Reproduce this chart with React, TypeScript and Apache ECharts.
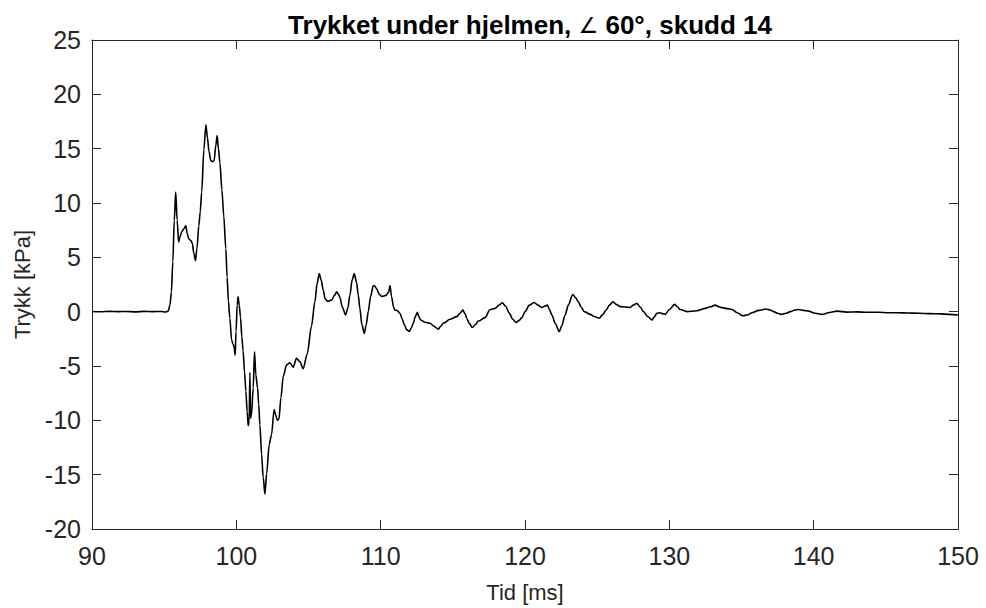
import React, { useEffect, useRef } from "react";
import * as echarts from "echarts";

// Time axis (ms) and the pressure under the helmet (kPa)
const times: number[] = [
  90.0, 90.6, 91.2, 91.8, 92.4, 93.0, 93.6, 94.2, 94.8, 95.1, 95.28, 95.4, 95.5, 95.6, 95.7, 95.8, 95.9,
  96.0, 96.1, 96.2, 96.35, 96.5, 96.6, 96.7, 96.85, 96.95, 97.05, 97.17, 97.27, 97.4, 97.5, 97.6, 97.75,
  97.89, 98.0, 98.1, 98.23, 98.35, 98.46, 98.58, 98.67, 98.76, 98.86, 99.0, 99.13, 99.27, 99.36, 99.45,
  99.55, 99.67, 99.77, 99.84, 99.92, 99.98, 100.06, 100.12, 100.2, 100.29, 100.38, 100.47, 100.57, 100.66,
  100.75, 100.82, 100.89, 100.94, 100.98, 101.05, 101.17, 101.26, 101.35, 101.47, 101.55, 101.63, 101.75,
  101.86, 101.98, 102.1, 102.28, 102.44, 102.62, 102.72, 102.85, 102.95, 103.09, 103.25, 103.48, 103.71,
  103.94, 104.17, 104.4, 104.63, 104.91, 105.21, 105.44, 105.6, 105.74, 105.88, 106.02, 106.15, 106.3,
  106.6, 106.8, 106.95, 107.08, 107.18, 107.35, 107.57, 107.72, 107.87, 108.02, 108.17, 108.33, 108.45,
  108.56, 108.7, 108.86, 109.0, 109.14, 109.3, 109.49, 109.6, 109.72, 109.9, 110.07, 110.37, 110.55,
  110.65, 110.75, 110.9, 110.99, 111.15, 111.34, 111.5, 111.64, 111.8, 111.98, 112.12, 112.26, 112.4,
  112.54, 112.66, 112.77, 113.07, 113.42, 113.7, 113.99, 114.15, 114.34, 114.8, 115.27, 115.5, 115.69,
  115.85, 115.96, 116.15, 116.35, 116.55, 116.77, 117.23, 117.58, 117.93, 118.2, 118.43, 118.65, 118.92,
  119.15, 119.38, 119.6, 119.78, 120.0, 120.3, 120.63, 120.9, 121.16, 121.35, 121.55, 121.7, 121.86,
  122.1, 122.37, 122.55, 122.78, 123.0, 123.31, 123.5, 123.7, 123.9, 124.1, 124.51, 124.8, 125.14, 125.4,
  125.62, 125.85, 126.09, 126.35, 126.6, 127.29, 127.5, 127.75, 128.0, 128.21, 128.5, 128.79, 128.95,
  129.14, 129.35, 129.55, 129.72, 130.0, 130.36, 130.55, 130.76, 131.22, 131.91, 132.49, 132.85, 133.18,
  133.45, 133.65, 134.0, 134.34, 134.7, 135.1, 135.4, 135.73, 136.2, 136.7, 137.0, 137.23, 137.5, 137.75,
  138.1, 138.38, 138.7, 138.96, 139.3, 139.65, 140.1, 140.58, 141.1, 141.62, 142.3, 143.0, 143.7, 144.5,
  145.2, 145.8, 146.5, 147.3, 148.0, 148.8, 149.4, 150.0,
];

const pressures: number[] = [
  0.02, -0.01, 0.03, 0.0, 0.02, -0.02, 0.03, 0.0, 0.02, -0.03, 0.05, 0.6, 1.8, 4.6, 8.4, 11.0, 8.4,
  6.4, 6.9, 7.3, 7.6, 7.9, 7.2, 6.7, 6.55, 6.3, 5.4, 4.7, 5.8, 7.9, 9.2, 11.0, 14.9,
  17.2, 16.0, 14.8, 13.9, 13.8, 13.9, 15.3, 16.2, 15.0, 13.7, 11.2, 8.8, 5.8, 3.2, 1.0,
  -0.6, -2.6, -3.0, -3.2, -4.0, -1.8, 0.6, 1.37, 0.6, -0.5, -2.3, -3.6, -5.6, -7.3,
  -9.2, -10.5, -10.1, -5.6, -9.8, -9.5, -7.0, -3.7, -5.8, -7.0, -8.5, -10.4, -13.1,
  -15.25, -16.8, -14.9, -12.2, -11.3, -9.0, -9.5, -10.0, -9.9, -7.9, -5.95, -4.9, -4.7,
  -5.1, -4.3, -4.6, -5.25, -3.9, -1.3, 0.9, 2.6, 3.5, 2.9, 2.0, 1.2, 0.97,
  1.06, 1.5, 1.83, 1.6, 1.28, 0.4, -0.3, 0.3, 1.5, 2.9, 3.5, 2.7, 1.5,
  0.3, -1.2, -2.0, -1.2, 0.0, 1.4, 2.4, 2.35, 2.1, 1.6, 1.4, 1.5, 1.8,
  2.4, 1.4, 0.4, 0.15, 0.1, -0.15, -0.7, -1.2, -1.65, -1.83, -1.5, -1.07, -0.45,
  -0.06, -0.5, -0.77, -0.98, -1.07, -1.35, -1.62, -1.35, -1.07, -0.7, -0.46, -0.15, 0.15,
  -0.2, -0.6, -1.1, -1.46, -1.2, -0.86, -0.55, 0.2, 0.3, 0.6, 0.82, 0.5, -0.16,
  -0.7, -1.0, -0.8, -0.55, 0.0, 0.6, 0.85, 0.6, 0.39, 0.5, 0.6, 0.2, -0.3,
  -1.1, -1.83, -1.3, -0.3, 0.6, 1.58, 1.3, 0.9, 0.4, 0.0, -0.25, -0.45, -0.6, -0.25,
  0.15, 0.6, 0.9, 0.65, 0.46, 0.39, 0.6, 0.76, 0.4, 0.0, -0.45, -0.77, -0.5,
  -0.15, -0.1, -0.2, -0.25, 0.2, 0.67, 0.45, 0.2, 0.0, 0.09, 0.3, 0.45, 0.6,
  0.45, 0.37, 0.28, 0.2, -0.1, -0.38, -0.3, -0.1, 0.12, 0.24, 0.15, 0.0, -0.15, -0.25,
  -0.15, 0.0, 0.15, 0.2, 0.12, 0.05, -0.15, -0.25, -0.08, 0.05, -0.04, -0.02, -0.06, -0.05,
  -0.1, -0.1, -0.12, -0.15, -0.18, -0.2, -0.25, -0.3,
];

const X_MIN = 90;
const X_MAX = 150;
const X_STEP = 10;
const Y_MIN = -20;
const Y_MAX = 25;
const Y_STEP = 5;

// Title pieces: the angle sign is set in a regular weight
const TITLE_HEAD = "Trykket under hjelmen, ";
const TITLE_ANGLE = "\u2220";
const TITLE_TAIL = " 60\u00b0, skudd 14";
const X_NAME = "Tid [ms]";
const Y_NAME = "Trykk [kPa]";

const FONT = "'Liberation Sans', Arial, Helvetica, sans-serif";
const AXIS_COLOR = "#262626";

export default function App() {
  const ref = useRef<HTMLDivElement>(null);

  useEffect(() => {
    if (!ref.current) return;
    const chart = echarts.init(ref.current, undefined, { renderer: "svg" });

    const points = times.map((t, i) => [t, pressures[i]]);

    const tickCommon = {
      show: true,
      inside: true,
      length: 9,
      lineStyle: { color: AXIS_COLOR, width: 1 },
    };
    const lineCommon = { show: true, onZero: false, lineStyle: { color: AXIS_COLOR, width: 1 } };

    chart.setOption({
      animation: false,
      backgroundColor: "#ffffff",
      title: {
        text: `{b|${TITLE_HEAD}}{a|${TITLE_ANGLE}}{b|${TITLE_TAIL}}`,
        left: 525,
        textAlign: "center",
        top: 7,
        textStyle: {
          fontFamily: FONT,
          fontSize: 26,
          color: "#000000",
          rich: {
            b: { fontFamily: FONT, fontWeight: "bold", fontSize: 26, color: "#000000" },
            a: { fontFamily: "'DejaVu Sans', sans-serif", fontWeight: "normal", fontSize: 22, color: "#000000" },
          },
        },
      },
      grid: { left: 92, right: 28, top: 40, bottom: 76, containLabel: false },
      xAxis: [
        {
          type: "value",
          min: X_MIN,
          max: X_MAX,
          interval: X_STEP,
          position: "bottom",
          name: X_NAME,
          nameLocation: "middle",
          nameGap: 52,
          nameTextStyle: { fontFamily: FONT, fontSize: 22, color: AXIS_COLOR },
          axisLine: lineCommon,
          axisTick: tickCommon,
          axisLabel: { margin: 14, fontFamily: FONT, fontSize: 25, color: AXIS_COLOR },
          splitLine: { show: false },
        },
        {
          type: "value",
          min: X_MIN,
          max: X_MAX,
          interval: X_STEP,
          position: "top",
          axisLine: lineCommon,
          axisTick: tickCommon,
          axisLabel: { show: false },
          splitLine: { show: false },
        },
      ],
      yAxis: [
        {
          type: "value",
          min: Y_MIN,
          max: Y_MAX,
          interval: Y_STEP,
          position: "left",
          name: Y_NAME,
          nameLocation: "middle",
          nameGap: 59,
          nameTextStyle: { fontFamily: FONT, fontSize: 22, color: AXIS_COLOR },
          axisLine: lineCommon,
          axisTick: tickCommon,
          axisLabel: { margin: 11, fontFamily: FONT, fontSize: 25, color: AXIS_COLOR },
          splitLine: { show: false },
        },
        {
          type: "value",
          min: Y_MIN,
          max: Y_MAX,
          interval: Y_STEP,
          position: "right",
          axisLine: lineCommon,
          axisTick: tickCommon,
          axisLabel: { show: false },
          splitLine: { show: false },
        },
      ],
      series: [
        {
          type: "line",
          xAxisIndex: 0,
          yAxisIndex: 0,
          data: points,
          showSymbol: false,
          smooth: 0.3,
          smoothMonotone: "x",
          lineStyle: { color: "#000000", width: 1.6 },
          emphasis: { disabled: true },
        },
      ],
    });

    return () => chart.dispose();
  }, []);

  return (
    <div
      ref={ref}
      style={{ position: "fixed", left: 0, top: 0, width: 986, height: 608, background: "#fff" }}
    />
  );
}
